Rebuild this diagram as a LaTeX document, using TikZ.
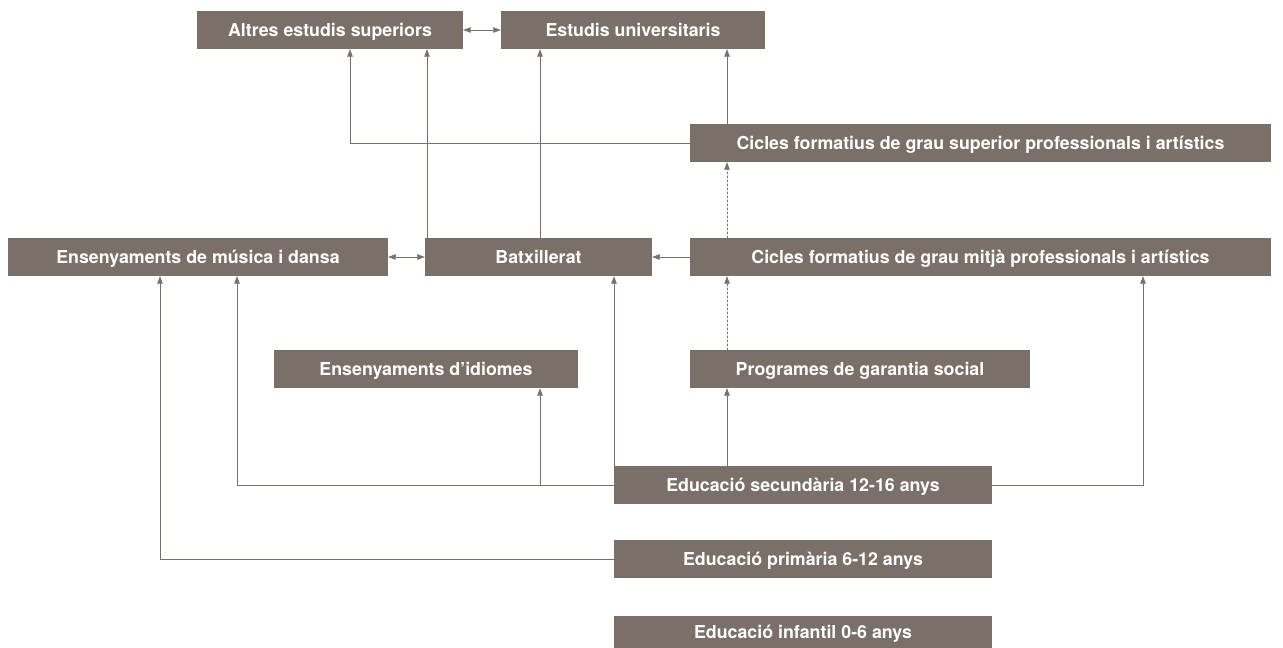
\documentclass[tikz,border=0pt]{standalone}
\usepackage{fontspec}
\newfontfamily\boxfont{TeX Gyre Heros}
\usetikzlibrary{arrows.meta}
\definecolor{boxc}{RGB}{122,112,105}

\begin{document}
\begin{tikzpicture}[x=1pt,y=-1pt,line cap=round,
		box/.style={fill=boxc,text=white,inner sep=0pt,minimum height=38pt,text height=12.8pt,text depth=0pt,font=\boxfont\bfseries\fontsize{17.8}{20}\selectfont},
		link/.style={draw=boxc,line width=0.6pt,-{Triangle[length=7.5pt,width=5.5pt]}},
		both/.style={link,{Triangle[length=7.5pt,width=5.5pt]}-{Triangle[length=7.5pt,width=5.5pt]}},
		maybe/.style={link,dash pattern=on 2pt off 2pt}]
		\useasboundingbox (0,0) rectangle (1283,648);
		\node[box,minimum width=266pt] (altres) at (330,30) {Altres estudis superiors};
		\node[box,minimum width=264pt] (estudis) at (633,30) {Estudis universitaris};
		\node[box,minimum width=581pt] (superior) at (980.5,143) {Cicles formatius de grau superior professionals i artístics};
		\node[box,minimum width=380pt] (musica) at (198,257) {Ensenyaments de música i dansa};
		\node[box,minimum width=227pt] (batx) at (538.5,257) {Batxillerat};
		\node[box,minimum width=581pt] (mitja) at (980.5,257) {Cicles formatius de grau mitjà professionals i artístics};
		\node[box,minimum width=304pt] (idiomes) at (426,369) {Ensenyaments d’idiomes};
		\node[box,minimum width=340pt] (garantia) at (860,369) {Programes de garantia social};
		\node[box,minimum width=378pt] (secundaria) at (803,485) {Educació secundària 12-16 anys};
		\node[box,minimum width=378pt] (primaria) at (803,559) {Educació primària 6-12 anys};
		\node[box,minimum width=378pt,minimum height=32pt] (infantil) at (803,632) {Educació infantil 0-6 anys};
		% columns of the vertical links
		\coordinate (c1) at (160,0);
		\coordinate (c2) at (237,0);
		\coordinate (c3) at (350,0);
		\coordinate (c4) at (427,0);
		\coordinate (c5) at (540,0);
		\coordinate (c6) at (614,0);
		\coordinate (c7) at (727,0);
		\coordinate (c8) at (1143,0);
		\draw[both] (altres) -- (estudis);
		\draw[link] (superior.west) -| (altres.south -| c3);
		\draw[link] (superior.north -| c7) -- (estudis.south -| c7);
		\draw[link] (batx.north -| c4) -- (altres.south -| c4);
		\draw[link] (batx.north -| c5) -- (estudis.south -| c5);
		\draw[both] (musica) -- (batx);
		\draw[link] (mitja) -- (batx);
		\draw[maybe] (mitja.north -| c7) -- (superior.south -| c7);
		\draw[maybe] (garantia.north -| c7) -- (mitja.south -| c7);
		\draw[link] (secundaria.north -| c7) -- (garantia.south -| c7);
		\draw[link] (secundaria.north -| c6) -- (batx.south -| c6);
		\draw[link] (secundaria.west) -| (musica.south -| c2);
		\draw[link] (secundaria.west -| c5) -- (idiomes.south -| c5);
		\draw[link] (secundaria.east) -| (mitja.south -| c8);
		\draw[link] (primaria.west) -| (musica.south -| c1);
	\end{tikzpicture}
\end{document}
